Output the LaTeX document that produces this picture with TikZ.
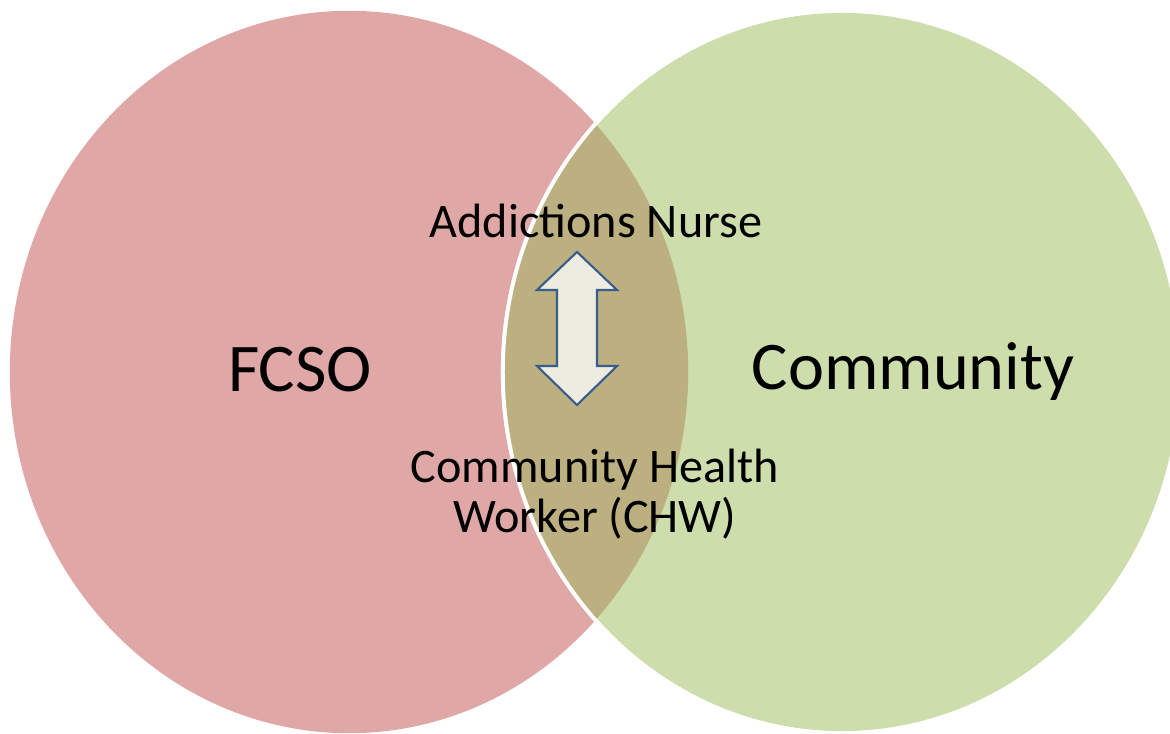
\documentclass[tikz,border=0pt]{standalone}
\usepackage{fontspec}
\setmainfont{Carlito}
\usetikzlibrary{positioning}

\definecolor{fcsored}{RGB}{224,167,167}
\definecolor{commgreen}{RGB}{206,221,172}
\definecolor{overlap}{RGB}{189,176,128}
\definecolor{arrowfill}{RGB}{238,236,225}
\definecolor{arrowline}{RGB}{56,93,138}

\tikzset{
  bigtext/.style={font=\fontsize{19.4}{23}\selectfont, inner sep=0pt},
  roletext/.style={font=\fontsize{13.7}{14.5}\selectfont, align=center, inner sep=0pt},
}

\begin{document}
\begin{tikzpicture}[x=0.01cm, y=-0.01cm]
 \useasboundingbox (0,0) rectangle (1170,734);
 % the two sets
 \fill[fcsored] (349,372) ellipse [x radius=33.9mm, y radius=36.1mm];
 \filldraw[fill=commgreen, draw=white, line width=1.1pt] (842,372) ellipse [x radius=33.9mm, y radius=36.1mm];
 \begin{scope}
  \clip (349,372) ellipse [x radius=33.9mm, y radius=36.1mm];
  \fill[overlap] (842,372) ellipse [x radius=33.9mm, y radius=36.1mm];
 \end{scope}
 \draw[white, line width=1.1pt] (842,372) ellipse [x radius=33.9mm, y radius=36.1mm];

 \node[bigtext] (fcso) at (300,370) {FCSO};
 \node[bigtext] (community) at (913,372) {Community};

 % two-way arrow in the overlap
 \filldraw[fill=arrowfill, draw=arrowline, line width=0.6pt, line join=miter]
  (577,252) -- (617,290) -- (597,290) -- (597,366) -- (617,366) -- (577,405)
  -- (537,366) -- (557,366) -- (557,290) -- (537,290) -- cycle;

 \node[roletext, anchor=base] (nurse) at (596,238) {Addictions Nurse};
 \node[roletext, anchor=base] (chw) at (595,533) {Community Health\\Worker (CHW)};
\end{tikzpicture}
\end{document}
